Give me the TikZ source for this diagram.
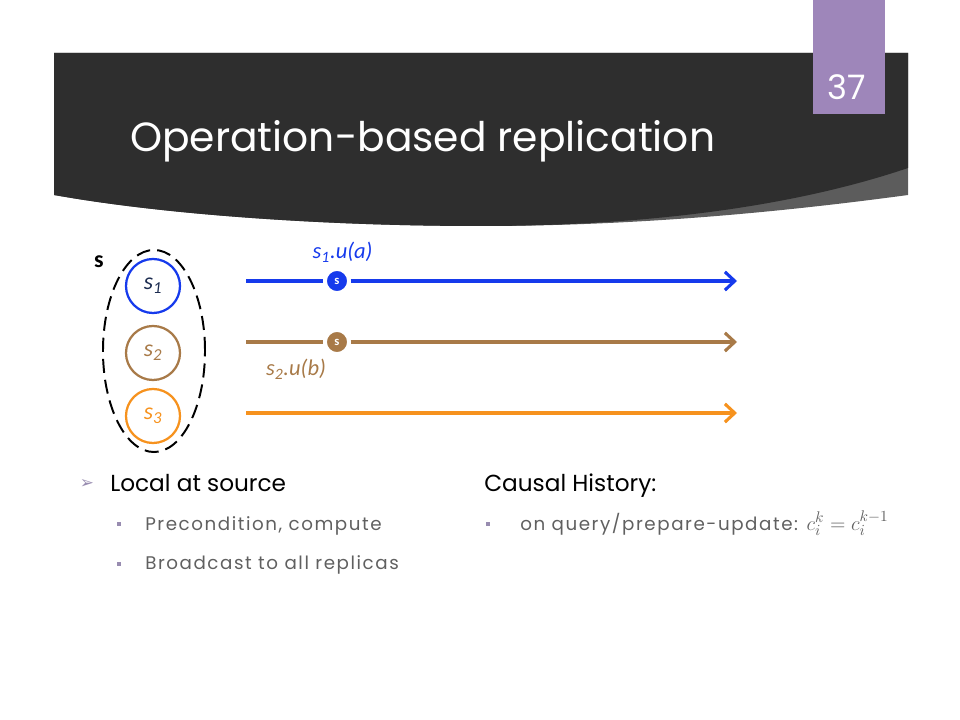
\documentclass[tikz,border=0pt]{standalone}
\usepackage{fontspec}
\setmainfont{Poppins}
\newfontfamily\labelfont{Carlito}
\newfontfamily\symfont{DejaVu Sans}
\newfontfamily\subfont{Poppins}[LetterSpace=8.5]
\usetikzlibrary{arrows.meta, positioning, shapes.geometric}
\definecolor{replblue}{RGB}{22,58,236}
\definecolor{replbrown}{RGB}{168,122,72}
\definecolor{replorange}{RGB}{246,146,30}
\definecolor{slidepurple}{RGB}{158,134,186}
\definecolor{bandgrey}{RGB}{46,46,46}
\definecolor{wedgegrey}{RGB}{92,92,92}
\definecolor{bodygrey}{RGB}{96,96,96}
\definecolor{bulletgrey}{RGB}{152,140,176}
\definecolor{navytext}{RGB}{28,44,80}

\begin{document}
\begin{tikzpicture}[x=0.025cm, y=-0.025cm,
    replica/.style={draw, circle, line width=1.6pt, minimum size=1.35cm, inner sep=0pt, font=\labelfont\itshape\fontsize{17}{17}\selectfont},
    evt/.style={circle, fill=#1, draw=white, line width=1pt, minimum size=0.54cm, inner sep=0pt, outer sep=2pt, text=white, font=\labelfont\bfseries\fontsize{9}{9}\selectfont},
    tl/.style={line width=2.2pt, #1},
    tlarr/.style={line width=2.2pt, #1, -{Straight Barb[length=7pt, width=13pt]}},
    lbl/.style={font=\labelfont\itshape\fontsize{16}{16}\selectfont, inner sep=1pt},
    head/.style={anchor=base west, inner sep=0pt, font=\fontsize{16.5}{18}\selectfont},
    sub/.style={anchor=base west, inner sep=0pt, text=bodygrey, font=\subfont\fontsize{13}{15}\selectfont},
    sq/.style={fill=bulletgrey, minimum size=3.5pt, inner sep=0pt}
  ]
  \useasboundingbox (0,0) rectangle (960,720);

  % title band
  \fill[wedgegrey] (54,53) -- (908,53) -- (908,195) .. controls (760,215) and (620,226) .. (480,226) .. controls (320,226) and (160,214) .. (54,195) -- cycle;
  \fill[bandgrey] (54,53) -- (908,53) -- (908,168) .. controls (790,208) and (640,226) .. (480,226) .. controls (320,226) and (160,214) .. (54,195) -- cycle;
  \node[anchor=base west, text=white, inner sep=0pt, font=\fontsize{29}{30}\selectfont] (title) at (130,152) {Operation-based replication};

  % page number
  \node[fill=slidepurple, minimum width=1.8cm, minimum height=2.85cm, inner sep=0pt, anchor=north] (pageno) at (849,0) {};
  \node[text=white, font=\fontsize{24}{24}\selectfont] (num) at (847,87) {37};

  % replicas
  \node[draw, ellipse, line width=1.4pt, dash pattern=on 10pt off 5pt, minimum width=2.55cm, minimum height=5.05cm] (grp) at (154,351) {};
  \node[font=\labelfont\bfseries\fontsize{17}{17}\selectfont] (slbl) at (99,262) {s};
  \node[replica, replblue, text=navytext] (r1) at (153,286) {s\textsubscript{1}};
  \node[replica, replbrown] (r2) at (153,353) {s\textsubscript{2}};
  \node[replica, replorange] (r3) at (153,416) {s\textsubscript{3}};

  % timelines
  \coordinate (b0) at (246,281);
  \coordinate (b1) at (737,281);
  \coordinate (c0) at (246,342);
  \coordinate (c1) at (737,342);
  \coordinate (d0) at (246,413);
  \coordinate (d1) at (737,413);
  \node[evt=replblue] (u1) at (337,281) {s};
  \node[evt=replbrown] (u2) at (337,342) {s};

  \draw[tl=replblue] (b0) -- (u1);
  \draw[tlarr=replblue] (u1) -- (b1);
  \draw[tl=replbrown] (c0) -- (u2);
  \draw[tlarr=replbrown] (u2) -- (c1);
  \draw[tlarr=replorange] (d0) -- (d1);

  \node[lbl, text=replblue, above=0.08cm of u1, xshift=4pt] (op1) {s\textsubscript{1}.u(a)};
  \node[lbl, text=replbrown] (op2) at (296,369) {s\textsubscript{2}.u(b)};

  % text below
  \node[head] (local) at (110,492) {Local at source};
  \node[text=bulletgrey, inner sep=0pt, font=\symfont\fontsize{12}{12}\selectfont] (tip) at (87,484) {➢};
  \node[sub] (pre) at (145,530) {Precondition, compute};
  \node[sub] (bcast) at (145,570) {Broadcast to all replicas};
  \node[sq] (sq1) at (119,524) {};
  \node[sq] (sq2) at (119,564) {};

  \node[head] (causal) at (484,492) {Causal History:};
  \node[sub] (query) at (520,530) {on query/prepare-update: {\fontsize{15}{15}\selectfont$c_i^k = c_i^{k-1}$}};
  \node[sq] (sq3) at (488,524) {};
\end{tikzpicture}
\end{document}
